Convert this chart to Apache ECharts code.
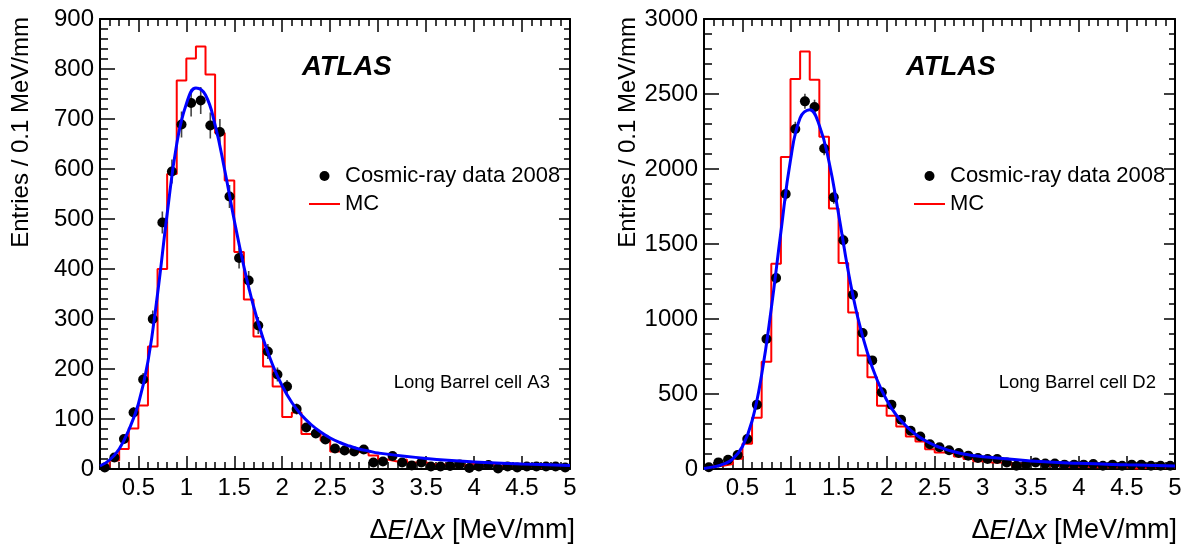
<!DOCTYPE html>
<html>
<head>
<meta charset="utf-8">
<script src="https://cdn.jsdelivr.net/npm/echarts@6/dist/echarts.min.js"></script>
<style>
html,body{margin:0;padding:0;background:#fff;}
#chart{width:1194px;height:548px;}
</style>
</head>
<body>
<div id="chart"></div>
<script>
// ---------- data ----------
const binCenters = [0.15,0.25,0.35,0.45,0.55,0.65,0.75,0.85,0.95,
  1.05,1.15,1.25,1.35,1.45,1.55,1.65,1.75,1.85,1.95,
  2.05,2.15,2.25,2.35,2.45,2.55,2.65,2.75,2.85,2.95,
  3.05,3.15,3.25,3.35,3.45,3.55,3.65,3.75,3.85,3.95,
  4.05,4.15,4.25,4.35,4.45,4.55,4.65,4.75,4.85,4.95];

// Long Barrel cell A3
const dataA3 = [3,23,60,113,179,300,493,595,689,
  732,737,687,674,545,422,377,287,235,189,
  165,120,83,71,59,41,37,35,39,13,
  15,26,13,7,13,5,5,6,9,2,
  5,8,1,5,3,5,5,5,5,3];
const errA3 = [2,5,8,11,13,17,22,24,26,
  27,27,26,26,23,21,19,17,15,14,
  13,11,9,8,8,6,6,6,6,4,
  4,5,4,3,4,2,2,2,3,1,
  2,3,1,2,2,2,2,2,2,2];
const mcA3 = [4,17,40,81,127,245,400,590,777,
  821,845,789,672,577,434,339,265,205,165,
  104,113,70,70,57,35,35,34,33,27,
  19,15,19,13,13,9,9,7,7,11,
  10,9,5,5,5,4,2,5,4,4];

// Long Barrel cell D2
const dataD2 = [12,44,62,93,200,429,867,1273,1833,
  2267,2451,2413,2137,1811,1525,1162,907,724,511,
  429,329,255,217,165,145,125,107,89,73,
  67,67,44,22,29,44,36,36,29,29,
  29,33,22,29,22,29,29,22,22,22];
const errD2 = [3,7,8,10,14,21,29,36,43,
  48,50,49,46,43,39,34,30,27,23,
  21,18,16,15,13,12,11,10,9,9,
  8,8,7,5,5,7,6,6,5,5,
  5,6,5,5,5,5,5,5,5,5];
const mcD2 = [7,22,34,68,168,342,715,1369,2080,
  2600,2784,2595,2215,1737,1373,1044,757,611,422,
  355,284,217,184,131,110,105,84,67,51,
  44,44,44,22,36,33,22,22,15,15,
  15,11,11,11,11,4,9,10,10,10];

// fitted curves
const fitX  = [0.1,0.2,0.3,0.4,0.5,0.6,0.7,0.8,0.9,1.0,
  1.1,1.2,1.3,1.4,1.5,1.6,1.7,1.8,1.9,2.0,
  2.1,2.2,2.3,2.4,2.5,2.6,2.7,2.8,2.9,3.0,
  3.5,4.0,4.5,5.0];
const fitA3 = [6,18,40,78,130,215,350,510,650,730,
  762,748,688,598,497,405,326,261,208,166,
  133,108,89,74,62,53,46,40,36,32,
  21,14,10,7];
const fitD2 = [4,14,32,68,150,320,630,1070,1580,2060,
  2340,2395,2290,2050,1700,1320,1010,775,595,460,
  360,288,232,190,158,134,115,100,90,82,
  54,38,28,20];

// axes
const xRange = [0.1, 5];
const xTickLabels = [0.5,1,1.5,2,2.5,3,3.5,4,4.5,5];
const yMaxA3 = 900, yStepA3 = 100;
const yMaxD2 = 3000, yStepD2 = 500;

// ---------- build ----------
const FONT = "'Liberation Sans', Arial, Helvetica, sans-serif";
const minorX = [];
for (let i = 1; i <= 49; i++) {
  const v = +(0.1 * i).toFixed(2);
  if (xTickLabels.indexOf(v) < 0) minorX.push(v);
}
function stepData(vals) {
  const d = binCenters.map((c, i) => [+(c - 0.05).toFixed(2), vals[i]]);
  d.push([xRange[1], vals[vals.length - 1]]);
  return d;
}
function pts(vals) { return binCenters.map((c, i) => [c, vals[i]]); }
function errs(vals, e) { return binCenters.map((c, i) => [c, vals[i], e[i]]); }
function fitPts(vals) { return fitX.map((x, i) => [x, vals[i]]); }

const lineSty = {show: true, onZero: false, lineStyle: {color: '#000', width: 2}};
function xAxes(g) {
  const base = {type: 'value', gridIndex: g, min: xRange[0], max: xRange[1], splitLine: {show: false}};
  return [
    Object.assign({}, base, {position: 'bottom', axisLine: lineSty,
      axisTick: {show: true, inside: true, length: 13, customValues: xTickLabels, lineStyle: {color: '#000', width: 1.5}},
      axisLabel: {show: true, customValues: xTickLabels, margin: 7, color: '#000', fontSize: 24, fontFamily: FONT,
        formatter: v => String(+v.toFixed(2))}}),
    Object.assign({}, base, {position: 'bottom', axisLine: {show: false, onZero: false},
      axisTick: {show: true, inside: true, length: 7, customValues: minorX, lineStyle: {color: '#000', width: 1.5}},
      axisLabel: {show: false}}),
    Object.assign({}, base, {position: 'top', axisLine: lineSty,
      axisTick: {show: true, inside: true, length: 13, customValues: xTickLabels, lineStyle: {color: '#000', width: 1.5}},
      axisLabel: {show: false}}),
    Object.assign({}, base, {position: 'top', axisLine: {show: false, onZero: false},
      axisTick: {show: true, inside: true, length: 7, customValues: minorX, lineStyle: {color: '#000', width: 1.5}},
      axisLabel: {show: false}})
  ];
}
function yAxes(g, max, step) {
  const base = {type: 'value', gridIndex: g, min: 0, max: max, interval: step, splitLine: {show: false},
    minorSplitLine: {show: false}, axisLine: lineSty};
  return [
    Object.assign({}, base, {position: 'left',
      axisTick: {show: true, inside: true, length: 15, lineStyle: {color: '#000', width: 1.5}},
      minorTick: {show: true, splitNumber: 5, length: 8, lineStyle: {color: '#000', width: 1.5}},
      axisLabel: {show: true, margin: 6, color: '#000', fontSize: 24, fontFamily: FONT,
        formatter: v => String(Math.round(v))}}),
    Object.assign({}, base, {position: 'right',
      axisTick: {show: true, inside: true, length: 11, lineStyle: {color: '#000', width: 1.5}},
      minorTick: {show: true, splitNumber: 5, length: 6, lineStyle: {color: '#000', width: 1.5}},
      axisLabel: {show: false}})
  ];
}
function errorRender(params, api) {
  const x = api.value(0), y = api.value(1), e = api.value(2);
  const a = api.coord([x, y - e]), b = api.coord([x, y + e]);
  return {type: 'line', shape: {x1: a[0], y1: a[1], x2: b[0], y2: b[1]},
    style: {stroke: '#444', lineWidth: 1.6}};
}
function panelSeries(xi, yi, data, err, mc, fit) {
  return [
    {name: 'MC', type: 'line', xAxisIndex: xi, yAxisIndex: yi, data: stepData(mc), step: 'end',
      symbol: 'none', lineStyle: {color: '#ff0000', width: 2}, itemStyle: {color: '#ff0000'}, z: 2, silent: true},
    {name: 'err', type: 'custom', xAxisIndex: xi, yAxisIndex: yi, data: errs(data, err),
      renderItem: errorRender, encode: {x: 0, y: 1}, z: 3, silent: true},
    {name: 'Cosmic-ray data 2008', type: 'scatter', xAxisIndex: xi, yAxisIndex: yi, data: pts(data),
      symbol: 'circle', symbolSize: 10, itemStyle: {color: '#000', opacity: 1}, z: 4, silent: true},
    {name: 'fit', type: 'line', xAxisIndex: xi, yAxisIndex: yi, data: fitPts(fit), smooth: 0.45,
      symbol: 'none', lineStyle: {color: '#0000ff', width: 3}, z: 5, silent: true}
  ];
}
function legendAt(left) {
  return {left: left, top: 165, padding: 0, orient: 'vertical', itemWidth: 31, itemHeight: 10, itemGap: 6,
    selectedMode: false, textStyle: {fontSize: 22, fontFamily: FONT, color: '#000'},
    data: [
      {name: 'Cosmic-ray data 2008', icon: 'circle', itemStyle: {color: '#000'}},
      {name: 'MC', icon: 'path://M0,0H31V2H0Z', itemStyle: {color: '#ff0000'}}
    ]};
}
function txt(x, y, text, size, extra) {
  return Object.assign({type: 'text', x: x, y: y, silent: true,
    style: Object.assign({text: text, fill: '#000', font: size + 'px ' + FONT,
      textAlign: 'left', textVerticalAlign: 'middle', align: 'left', verticalAlign: 'middle'}, extra || {})});
}
function xTitle(x) {
  return {type: 'text', x: x, y: 531, silent: true,
    style: {text: '{n|Δ}{i|E}{n|/Δ}{i|x}{n| [MeV/mm]}', fill: '#000',
      textAlign: 'right', align: 'right', textVerticalAlign: 'middle', verticalAlign: 'middle',
      font: '27px ' + FONT,
      rich: {n: {fontSize: 27, fontFamily: FONT, fill: '#000'},
             i: {fontSize: 27, fontFamily: FONT, fontStyle: 'italic', fill: '#000'}}}};
}
function yTitle(x) {
  return {type: 'text', x: x, y: 17, rotation: Math.PI / 2, silent: true,
    style: {text: 'Entries / 0.1 MeV/mm', fill: '#000', font: '24px ' + FONT,
      textAlign: 'right', align: 'right', textVerticalAlign: 'middle', verticalAlign: 'middle'}};
}

const option = {
  backgroundColor: '#fff',
  animation: false,
  grid: [
    {left: 100, top: 19, width: 470, height: 450},
    {left: 704, top: 19, width: 471, height: 450}
  ],
  xAxis: xAxes(0).concat(xAxes(1)),
  yAxis: yAxes(0, yMaxA3, yStepA3).concat(yAxes(1, yMaxD2, yStepD2)),
  legend: [legendAt(309), legendAt(914)],
  series: panelSeries(0, 0, dataA3, errA3, mcA3, fitA3)
    .concat(panelSeries(4, 2, dataD2, errD2, mcD2, fitD2)),
  graphic: [
    txt(302, 67, 'ATLAS', 27.5, {font: 'italic bold 27.5px ' + FONT}),
    txt(906, 67, 'ATLAS', 27.5, {font: 'italic bold 27.5px ' + FONT}),
    txt(550, 383, 'Long Barrel cell A3', 18.5, {textAlign: 'right', align: 'right'}),
    txt(1156, 383, 'Long Barrel cell D2', 18.5, {textAlign: 'right', align: 'right'}),
    xTitle(575), xTitle(1177),
    yTitle(21), yTitle(628)
  ]
};
const chart = echarts.init(document.getElementById('chart'), null, {renderer: 'canvas'});
chart.setOption(option);
</script>
</body>
</html>
